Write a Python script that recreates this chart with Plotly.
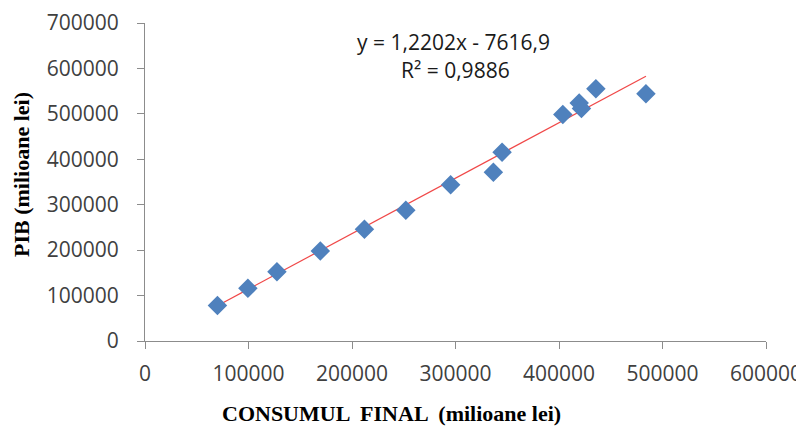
import plotly.graph_objects as go

# Data
consum_final = [70000, 99400, 127500, 169400, 212000, 252000, 295300, 336600,
                345000, 403700, 419500, 421700, 435600, 484000]
pib = [78000, 116000, 152600, 198200, 246000, 288000, 344000, 371600,
       415600, 498500, 524000, 511700, 555000, 544000]

x_ticks = [0, 100000, 200000, 300000, 400000, 500000, 600000]
y_ticks = [0, 100000, 200000, 300000, 400000, 500000, 600000, 700000]

slope = 1.2202
intercept = -7616.9
r2 = 0.9886

trend_x = [min(consum_final), max(consum_final)]
trend_y = [slope * v + intercept for v in trend_x]

fig = go.Figure()
fig.add_trace(go.Scatter(
    x=trend_x, y=trend_y, mode="lines",
    line=dict(color="#F04848", width=1.2),
    hoverinfo="skip", showlegend=False))
fig.add_trace(go.Scatter(
    x=consum_final, y=pib, mode="markers",
    marker=dict(symbol="diamond", size=15, color="#4F81BD",
                line=dict(width=0)),
    showlegend=False))

eq_text = f"y = {str(slope).replace('.', ',')}x - {str(abs(intercept)).replace('.', ',')}"
r2_text = f"R² = {str(r2).replace('.', ',')}"

PW, PH = 621, 318  # plot area size in px

ann_font = dict(family="Open Sans", size=21, color="#1a1a1a")
fig.add_annotation(x=(453 - 145) / PW, y=(341 - 42) / PH, xref="paper", yref="paper",
                   xanchor="center", yanchor="middle",
                   text=eq_text, showarrow=False, font=ann_font)
fig.add_annotation(x=(455 - 145) / PW, y=(341 - 70) / PH, xref="paper", yref="paper",
                   xanchor="center", yanchor="middle",
                   text=r2_text, showarrow=False, font=ann_font)

# Axis titles as annotations, positioned as in the reference
fig.add_annotation(x=(391 - 145) / PW, y=(341 - 413) / PH, xref="paper", yref="paper",
                   xanchor="center", yanchor="middle",
                   text="<b>CONSUMUL  FINAL  (milioane lei)</b>", showarrow=False,
                   font=dict(family="Liberation Serif", size=22, color="black"))
fig.add_annotation(x=(21 - 145) / PW, y=(341 - 175) / PH, xref="paper", yref="paper",
                   xanchor="center", yanchor="middle",
                   text="<b>PIB (milioane lei)</b>", showarrow=False, textangle=-90,
                   font=dict(family="Liberation Serif", size=22, color="black"))

tick_font = dict(family="Open Sans", size=21, color="#404040")

# the page shows the figure with an 8 px body offset, so size it to fit the window
fig.update_layout(
    width=796, height=420,
    margin=dict(l=137, r=38, t=15, b=87),
    paper_bgcolor="white", plot_bgcolor="white",
    xaxis=dict(
        range=[0, 600000], tickvals=x_ticks,
        ticktext=[str(v) for v in x_ticks],
        showgrid=False, zeroline=False, automargin=False,
        showline=True, linecolor="#8c8c8c", linewidth=1.2,
        ticks="outside", ticklen=7, tickcolor="#8c8c8c", tickwidth=1.2,
        tickfont=tick_font, ticklabelstandoff=7,
    ),
    yaxis=dict(
        range=[0, 700000], tickvals=y_ticks,
        ticktext=[str(v) for v in y_ticks],
        showgrid=False, zeroline=False, automargin=False,
        showline=True, linecolor="#8c8c8c", linewidth=1.2,
        ticks="outside", ticklen=7, tickcolor="#8c8c8c", tickwidth=1.2,
        tickfont=tick_font, ticklabelstandoff=14,
    ),
)

fig.write_html("out.html")
